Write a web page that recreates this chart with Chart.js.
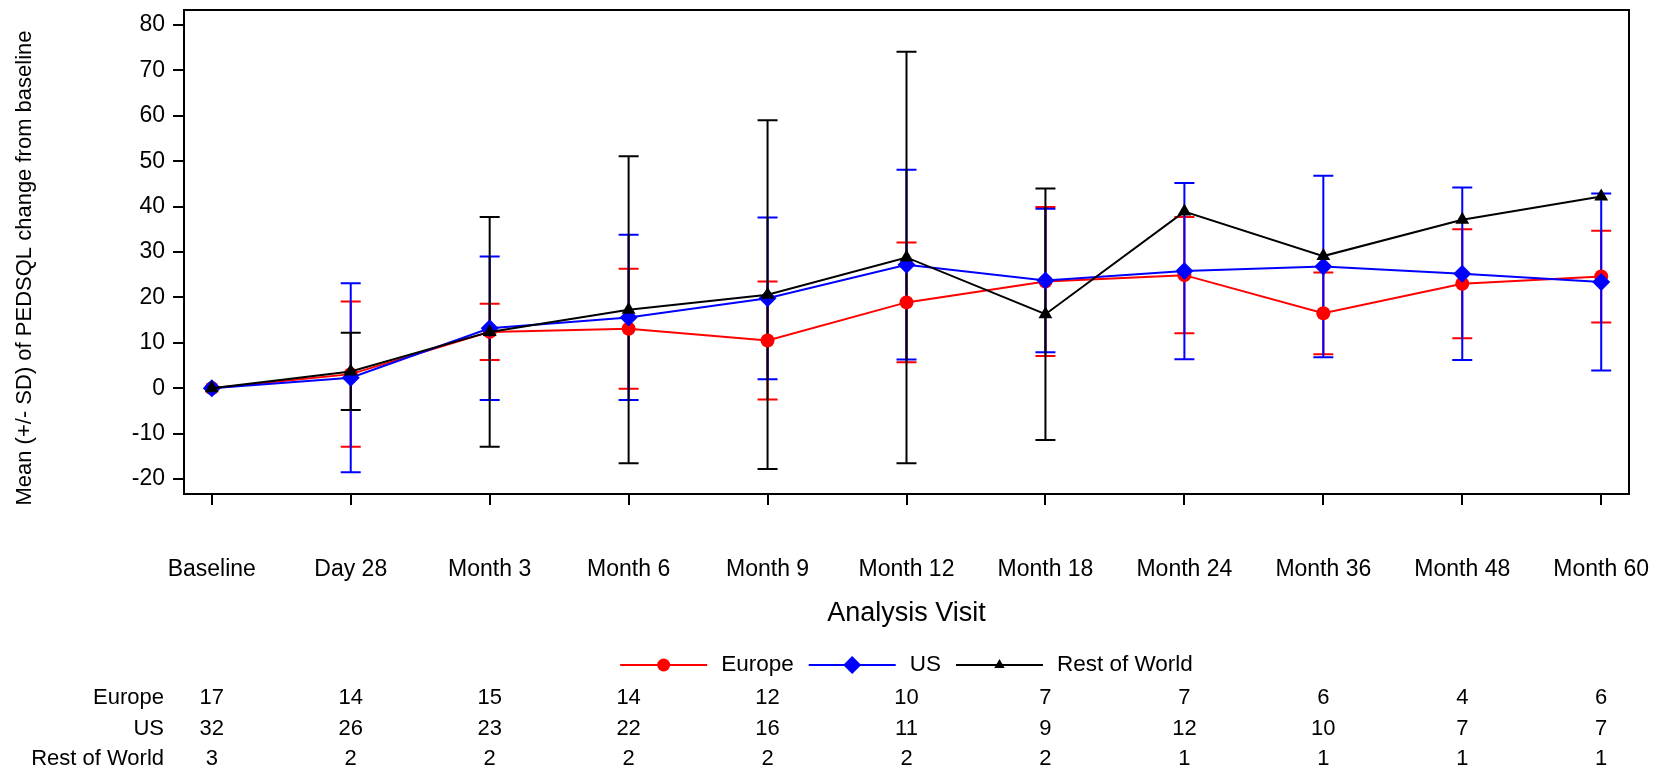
<!DOCTYPE html>
<html lang="en">

<head>
    <meta charset="UTF-8">
    <title>PEDSQL change from baseline</title>
    <script src="https://cdn.jsdelivr.net/npm/chart.js"></script>
    <style>
        html, body {
            margin: 0;
            padding: 0;
            background: #fff;
        }

        .chart-box {
            width: 1659px;
            height: 771px;
        }
    </style>
</head>

<body>
    <div class="chart-box">
        <canvas id="pedsqlChart"></canvas>
    </div>

    <script>
        // visits on the x axis
        const visits = ['Baseline', 'Day 28', 'Month 3', 'Month 6', 'Month 9', 'Month 12',
            'Month 18', 'Month 24', 'Month 36', 'Month 48', 'Month 60'];

        // mean change from baseline and SD
        const europeMean = [0, 3.1, 12.4, 13.1, 10.5, 18.9, 23.5, 24.9, 16.5, 23.0, 24.6];
        const europeSD = [0, 16.0, 6.2, 13.2, 13.0, 13.2, 16.4, 12.8, 9.0, 12.0, 10.1];
        const usMean = [0, 2.3, 13.2, 15.6, 19.8, 27.2, 23.7, 25.8, 26.8, 25.2, 23.4];
        const usSD = [0, 20.8, 15.8, 18.2, 17.8, 20.9, 15.8, 19.4, 20.0, 19.0, 19.5];
        const rowMean = [0, 3.7, 12.4, 17.3, 20.6, 28.8, 16.3, 38.9, 29.1, 37.1, 42.2];
        const rowSD = [0, 8.5, 25.3, 33.8, 38.4, 45.3, 27.7, null, null, null, null];

        // number of subjects per visit
        const nEurope = [17, 14, 15, 14, 12, 10, 7, 7, 6, 4, 6];
        const nUS = [32, 26, 23, 22, 16, 11, 9, 12, 10, 7, 7];
        const nRoW = [3, 2, 2, 2, 2, 2, 2, 1, 1, 1, 1];

        const fontFamily = "'Liberation Sans', Arial, sans-serif";
        Chart.defaults.font.family = fontFamily;
        Chart.defaults.color = '#000';

        function toPoints(arr) {
            return arr.map((v, i) => ({ x: i, y: v }));
        }

        const groups = [
            { name: 'Europe', mean: europeMean, sd: europeSD, n: nEurope, color: '#ff0000', style: 'circle', radius: 7, legendRadius: 6.5 },
            { name: 'US', mean: usMean, sd: usSD, n: nUS, color: '#0000ff', style: 'rectRot', radius: 9, legendRadius: 9 },
            { name: 'Rest of World', mean: rowMean, sd: rowSD, n: nRoW, color: '#000000', style: 'triangle', radius: 8, legendRadius: 6 }
        ];

        function drawMarker(ctx, style, x, y, r) {
            ctx.beginPath();
            if (style === 'circle') {
                ctx.arc(x, y, r, 0, Math.PI * 2);
            } else if (style === 'rectRot') {
                ctx.moveTo(x, y - r);
                ctx.lineTo(x + r, y);
                ctx.lineTo(x, y + r);
                ctx.lineTo(x - r, y);
            } else {
                const h = r * Math.sqrt(3) / 2;
                ctx.moveTo(x, y - r);
                ctx.lineTo(x + h, y + r / 2);
                ctx.lineTo(x - h, y + r / 2);
            }
            ctx.closePath();
            ctx.fill();
        }

        // keep the plot box where it is in the original, no extra room for labels
        function fixPadding(scale) {
            scale.paddingLeft = 0;
            scale.paddingRight = 0;
            scale.paddingTop = 0;
            scale.paddingBottom = 0;
        }

        // frame, error bars, legend and the N table
        const extrasPlugin = {
            id: 'extras',
            beforeDatasetsDraw(chart) {
                const ctx = chart.ctx;
                const xs = chart.scales.x;
                const ys = chart.scales.y;
                ctx.save();
                ctx.lineWidth = 2;
                groups.forEach(g => {
                    ctx.strokeStyle = g.color;
                    g.mean.forEach((m, i) => {
                        const sd = g.sd[i];
                        if (!sd) return;
                        const x = xs.getPixelForValue(i);
                        const yTop = ys.getPixelForValue(m + sd);
                        const yBot = ys.getPixelForValue(m - sd);
                        ctx.beginPath();
                        ctx.moveTo(x, yTop);
                        ctx.lineTo(x, yBot);
                        ctx.moveTo(x - 10, yTop);
                        ctx.lineTo(x + 10, yTop);
                        ctx.moveTo(x - 10, yBot);
                        ctx.lineTo(x + 10, yBot);
                        ctx.stroke();
                    });
                });
                ctx.restore();
            },
            afterDraw(chart) {
                const ctx = chart.ctx;
                const area = chart.chartArea;
                const xs = chart.scales.x;
                ctx.save();

                // box around the plot
                ctx.strokeStyle = '#000';
                ctx.lineWidth = 2;
                ctx.strokeRect(area.left, area.top, area.right - area.left, area.bottom - area.top);

                // y axis title
                ctx.fillStyle = '#000';
                ctx.font = '22px ' + fontFamily;
                ctx.textAlign = 'center';
                ctx.textBaseline = 'middle';
                ctx.save();
                ctx.translate(25, 268);
                ctx.rotate(-Math.PI / 2);
                ctx.fillText('Mean (+/- SD) of PEDSQL change from baseline', 0, 0);
                ctx.restore();

                // x axis title
                ctx.font = '27px ' + fontFamily;
                ctx.fillText('Analysis Visit', (area.left + area.right) / 2, 614);

                // legend
                ctx.font = '22.5px ' + fontFamily;
                const lineLen = 87, gapText = 14, gapItem = 15;
                const widths = groups.map(g => ctx.measureText(g.name).width);
                let total = 0;
                widths.forEach((w, k) => { total += lineLen + gapText + w + (k < widths.length - 1 ? gapItem : 0); });
                let lx = (area.left + area.right) / 2 - total / 2;
                const ly = 665;
                ctx.textAlign = 'left';
                groups.forEach((g, k) => {
                    ctx.strokeStyle = g.color;
                    ctx.fillStyle = g.color;
                    ctx.lineWidth = 2;
                    ctx.beginPath();
                    ctx.moveTo(lx, ly);
                    ctx.lineTo(lx + lineLen, ly);
                    ctx.stroke();
                    drawMarker(ctx, g.style, lx + lineLen / 2, ly, g.legendRadius);
                    ctx.fillStyle = '#000';
                    ctx.fillText(g.name, lx + lineLen + gapText, ly);
                    lx += lineLen + gapText + widths[k] + gapItem;
                });

                // N table
                const rowY = [698, 729, 759];
                ctx.font = '22px ' + fontFamily;
                groups.forEach((g, k) => {
                    ctx.textAlign = 'right';
                    ctx.fillText(g.name, 164, rowY[k]);
                    ctx.textAlign = 'center';
                    g.n.forEach((v, i) => {
                        ctx.fillText(String(v), xs.getPixelForValue(i), rowY[k]);
                    });
                });
                ctx.restore();
            }
        };

        const ctx = document.getElementById('pedsqlChart').getContext('2d');
        new Chart(ctx, {
            type: 'line',
            data: {
                datasets: groups.map((g, k) => ({
                    label: g.name,
                    data: toPoints(g.mean),
                    borderColor: g.color,
                    backgroundColor: g.color,
                    borderWidth: 2,
                    pointStyle: g.style,
                    pointRadius: g.radius,
                    pointBorderWidth: 0,
                    pointBackgroundColor: g.color,
                    tension: 0,
                    order: 2 - k
                }))
            },
            options: {
                responsive: true,
                maintainAspectRatio: false,
                animation: false,
                layout: {
                    padding: { left: 0, top: 10, right: 30, bottom: 0 }
                },
                plugins: {
                    legend: { display: false },
                    tooltip: { enabled: false }
                },
                scales: {
                    x: {
                        type: 'linear',
                        min: -0.2,
                        max: 10.2,
                        afterFit(scale) {
                            scale.height = 277;
                            fixPadding(scale);
                        },
                        border: { color: '#000', width: 2 },
                        grid: { drawOnChartArea: false, drawTicks: true, tickLength: 11, color: '#000', lineWidth: 2 },
                        ticks: {
                            stepSize: 1,
                            includeBounds: false,
                            autoSkip: false,
                            maxRotation: 0,
                            padding: 51,
                            color: '#000',
                            font: { size: 23 },
                            callback: v => visits[v] ?? ''
                        }
                    },
                    y: {
                        min: -23.3,
                        max: 83.3,
                        afterFit(scale) {
                            scale.width = 184;
                            fixPadding(scale);
                        },
                        border: { color: '#000', width: 2 },
                        grid: { drawOnChartArea: false, drawTicks: true, tickLength: 11, color: '#000', lineWidth: 2 },
                        ticks: {
                            stepSize: 10,
                            includeBounds: false,
                            padding: 8,
                            color: '#000',
                            font: { size: 23 }
                        }
                    }
                }
            },
            plugins: [extrasPlugin]
        });
    </script>
</body>

</html>
